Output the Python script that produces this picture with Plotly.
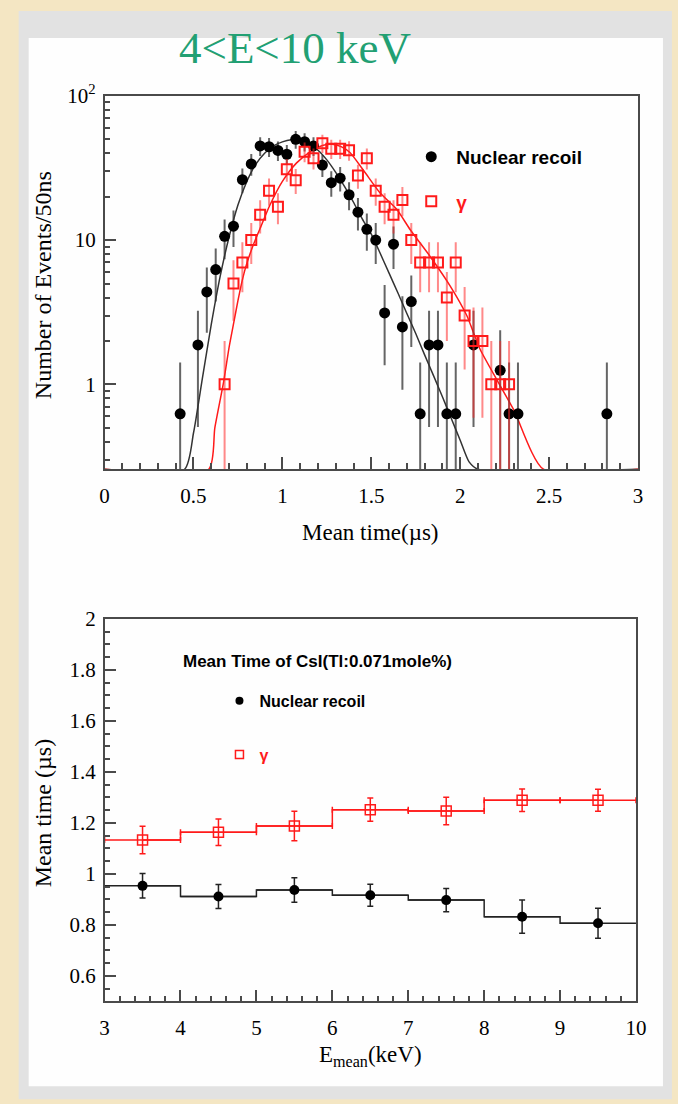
import numpy as np
import plotly.graph_objects as go

W, H = 678, 1104

# ---------- upper panel: mean-time spectra, 50 ns bins ----------
nr_t = [0.425, 0.525, 0.575, 0.625, 0.675, 0.725, 0.775, 0.825, 0.875, 0.925,
        0.975, 1.025, 1.075, 1.125, 1.175, 1.225, 1.275, 1.325, 1.375, 1.425,
        1.475, 1.525, 1.575, 1.625, 1.675, 1.725, 1.775, 1.825, 1.875, 1.925,
        1.975, 2.075, 2.225, 2.275, 2.325, 2.825]
nr_counts = [0.625, 1.875, 4.375, 6.25, 10.625, 12.5, 26.25, 33.75, 45.0, 44.375,
             41.875, 39.375, 50.0, 48.125, 45.0, 33.125, 25.0, 26.875, 20.625, 15.625,
             11.875, 10.0, 3.125, 9.375, 2.5, 3.75, 0.625, 1.875, 1.875, 0.625,
             0.625, 1.875, 1.25, 0.625, 0.625, 0.625]

gam_t = [0.675, 0.725, 0.775, 0.825, 0.875, 0.925, 0.975, 1.025, 1.075, 1.125,
         1.175, 1.225, 1.275, 1.325, 1.375, 1.425, 1.475, 1.525, 1.575, 1.625,
         1.675, 1.725, 1.775, 1.825, 1.875, 1.925, 1.975, 2.025, 2.075, 2.125,
         2.175, 2.225, 2.275]
gam_counts = [1, 5, 7, 10, 15, 22, 17, 31, 26, 41,
              37, 47, 43, 43, 42, 28, 37, 22, 17, 15,
              19, 10, 7, 7, 7, 4, 7, 3, 2, 2,
              1, 1, 1]

# fitted curves, sampled along the drawn fit
nr_fit_t = [0.0, 0.45, 0.50, 0.55, 0.60, 0.65, 0.70, 0.75, 0.80, 0.85, 0.90, 0.95,
            1.00, 1.05, 1.10, 1.15, 1.20, 1.25, 1.30, 1.35, 1.40, 1.45, 1.50,
            1.55, 1.60, 1.65, 1.70, 1.75, 1.80, 1.85, 1.90, 1.95, 2.00, 2.05,
            2.10, 3.0]
nr_fit_y = [0.0, 0.2, 0.46, 1.1, 2.6, 5.6, 10.5, 17.5, 25.5, 33.5, 40.0, 45.0,
            48.0, 49.6, 49.5, 46.5, 42.0, 36.0, 29.5, 23.5, 18.3, 14.0, 11.0,
            8.1, 5.9, 4.3, 3.1, 2.25, 1.6, 1.15, 0.82, 0.58, 0.41, 0.29,
            0.205, 0.0]

gam_fit_t = [0.0, 0.586, 0.62, 0.67, 0.70, 0.727, 0.75, 0.775, 0.80, 0.84, 0.88,
             0.93, 1.00, 1.08, 1.16, 1.23, 1.28, 1.33, 1.38, 1.46, 1.55, 1.644,
             1.719, 1.831, 1.944, 2.037, 2.112, 2.30, 2.468, 3.0]
gam_fit_y = [0.0, 0.258, 0.5, 1.05, 1.8, 2.7, 3.8, 5.3, 6.9, 9.5, 12.5,
             17.5, 25.5, 34.3, 41.3, 45.5, 46.2, 44.5, 40.5, 30.0, 21.2, 16.3,
             11.8, 7.7, 4.8, 3.0, 1.75, 0.67, 0.258, 0.0]

Y_MIN_TOP = 0.258

# ---------- lower panel: mean time vs. energy ----------
e_bins = [3.5, 4.5, 5.5, 6.5, 7.5, 8.5, 9.5]
gam_mean = [1.133, 1.163, 1.188, 1.252, 1.247, 1.289, 1.289]
gam_mean_err = [0.054, 0.052, 0.058, 0.046, 0.054, 0.044, 0.043]
nr_mean = [0.953, 0.911, 0.937, 0.916, 0.897, 0.832, 0.806]
nr_mean_err = [0.048, 0.047, 0.048, 0.043, 0.046, 0.065, 0.059]

RED = "#ff1a1a"
RED_ERR = "rgba(255,40,40,0.55)"
GREY_ERR = "rgba(50,50,50,0.75)"
AXIS = "#4a4a4a"
SERIF = "Liberation Serif"
SANS = "Liberation Sans"

# page-pixel -> paper-fraction mapping (calibrated for the rendered page box)
SX, OX = 0.9775, 4.3
SY, OY = 0.989, 11.0


def fx(x):
    return ((x - OX) / SX) / W


def fy(y):
    return 1 - ((y - OY) / SY) / H


fig = go.Figure()

# Poisson errors of the histogram contents
nr_vals = np.array(nr_counts)
nr_err = np.sqrt(nr_vals)
gam_vals = np.array(gam_counts, dtype=float)
gam_err = np.sqrt(gam_vals)

floor = Y_MIN_TOP
fig.add_trace(go.Scatter(
    x=nr_fit_t, y=np.maximum(np.array(nr_fit_y), floor), mode="lines",
    line=dict(color="#333333", width=1.5, shape="spline", smoothing=0.6),
    showlegend=False, xaxis="x", yaxis="y", hoverinfo="skip"))
fig.add_trace(go.Scatter(
    x=gam_fit_t, y=np.maximum(np.array(gam_fit_y), floor), mode="lines",
    line=dict(color=RED, width=1.5, shape="spline", smoothing=0.6),
    showlegend=False, xaxis="x", yaxis="y", hoverinfo="skip"))

fig.add_trace(go.Scatter(
    x=nr_t, y=nr_vals, mode="markers", name="Nuclear recoil",
    marker=dict(symbol="circle", size=11, color="black"),
    error_y=dict(type="data", array=nr_err,
                 arrayminus=np.minimum(nr_err, nr_vals - 0.01),
                 color=GREY_ERR, thickness=2, width=0),
    xaxis="x", yaxis="y", legend="legend", legendgroup="nr"))
fig.add_trace(go.Scatter(
    x=gam_t, y=gam_vals, mode="markers", name="<span style='color:#ff1a1a'>γ</span>",
    marker=dict(symbol="square-open", size=10, color=RED, line=dict(width=2)),
    error_y=dict(type="data", array=gam_err,
                 arrayminus=np.minimum(gam_err, gam_vals - 0.01),
                 color=RED_ERR, thickness=2, width=0),
    xaxis="x", yaxis="y", legend="legend", legendgroup="g"))

# lower panel: histogram steps with error bars
fig.add_trace(go.Scatter(
    x=e_bins, y=nr_mean, mode="lines+markers", line=dict(color="#222222", width=1.5, shape="hvh"),
    marker=dict(symbol="circle", size=10, color="black"),
    error_x=dict(type="constant", value=0.5, color="#222222", thickness=1.5, width=0),
    error_y=dict(type="data", array=nr_mean_err, color="#222222", thickness=1.5, width=3),
    showlegend=False, xaxis="x2", yaxis="y2"))
fig.add_trace(go.Scatter(
    x=e_bins, y=gam_mean, mode="lines+markers", line=dict(color=RED, width=1.5, shape="hvh"),
    marker=dict(symbol="square-open", size=10, color=RED, line=dict(width=1.5)),
    error_x=dict(type="constant", value=0.5, color=RED, thickness=1.5, width=3),
    error_y=dict(type="data", array=gam_mean_err, color=RED, thickness=1.5, width=3),
    showlegend=False, xaxis="x2", yaxis="y2"))
fig.add_trace(go.Scatter(
    x=[None], y=[None], mode="markers", name="Nuclear recoil",
    marker=dict(symbol="circle", size=8, color="black"),
    xaxis="x2", yaxis="y2", legend="legend2", legendgroup="nr2"))
fig.add_trace(go.Scatter(
    x=[None], y=[None], mode="markers", name="<span style='color:#ff1a1a'>γ</span>",
    marker=dict(symbol="square-open", size=8, color=RED, line=dict(width=1.5)),
    xaxis="x2", yaxis="y2", legend="legend2", legendgroup="g2"))

axis_common = dict(showline=True, linecolor=AXIS, linewidth=1.5, mirror=True,
                   ticks="inside", tickcolor=AXIS, tickwidth=1.5, ticklen=12,
                   showgrid=False, zeroline=False,
                   tickfont=dict(family=SERIF, size=21, color="black"))
x_common = dict(ticklabelstandoff=7, **axis_common)
y_common = dict(ticklabelstandoff=3, **axis_common)


def note(text, x, y, size, family=SERIF, angle=0, xanchor="center", weight="normal", color="black"):
    return dict(text=text, x=fx(x), y=fy(y), xref="paper", yref="paper",
                xanchor=xanchor, yanchor="middle", showarrow=False, textangle=angle,
                font=dict(family=family, size=size, color=color, weight=weight))


fig.update_layout(
    width=W, height=H, autosize=False,
    margin=dict(l=0, r=0, t=0, b=0),
    paper_bgcolor="#f4e6c3", plot_bgcolor="rgba(0,0,0,0)",
    xaxis=dict(domain=[fx(104), fx(638)], range=[0, 3], anchor="y",
               tickvals=[0, 0.5, 1, 1.5, 2, 2.5, 3],
               ticktext=["0", "0.5", "1", "1.5", "2", "2.5", "3"],
               minor=dict(ticks="inside", dtick=0.1, ticklen=6, tickcolor=AXIS, tickwidth=1.5),
               **x_common),
    yaxis=dict(domain=[fy(467), fy(93)], type="log", range=[np.log10(Y_MIN_TOP), 2], anchor="x",
               tickvals=[1, 10, 100], ticktext=["1", "10", "10<sup>2</sup>"],
               minor=dict(ticks="inside", ticklen=6, tickcolor=AXIS, tickwidth=1.5,
                          tickvals=[0.3, 0.4, 0.5, 0.6, 0.7, 0.8, 0.9,
                                    2, 3, 4, 5, 6, 7, 8, 9,
                                    20, 30, 40, 50, 60, 70, 80, 90]),
               **y_common),
    xaxis2=dict(domain=[fx(104), fx(636)], range=[3, 10], anchor="y2",
                tickvals=[3, 4, 5, 6, 7, 8, 9, 10],
                minor=dict(ticks="inside", dtick=0.2, ticklen=6, tickcolor=AXIS, tickwidth=1.5),
                **x_common),
    yaxis2=dict(domain=[fy(1000), fy(617)], range=[0.5, 2], anchor="x2",
                tickvals=[0.6, 0.8, 1.0, 1.2, 1.4, 1.6, 1.8, 2.0],
                ticktext=["0.6", "0.8", "1", "1.2", "1.4", "1.6", "1.8", "2"],
                minor=dict(ticks="inside", dtick=0.05, ticklen=6, tickcolor=AXIS, tickwidth=1.5),
                **y_common),
    legend=dict(x=fx(406), y=fy(135), xanchor="left", yanchor="top",
                bgcolor="rgba(0,0,0,0)", itemwidth=40, tracegroupgap=17,
                font=dict(family=SANS, size=19, color="black", weight="bold")),
    legend2=dict(x=fx(219), y=fy(682), xanchor="left", yanchor="top",
                 bgcolor="rgba(0,0,0,0)", itemwidth=30, tracegroupgap=30,
                 font=dict(family=SANS, size=16, color="black", weight="bold")),
    shapes=[
        dict(type="rect", xref="paper", yref="paper", x0=fx(18), x1=fx(672), y0=fy(1098), y1=fy(8),
             fillcolor="#e2e2e2", line=dict(width=0), layer="below"),
        dict(type="rect", xref="paper", yref="paper", x0=fx(28), x1=fx(663), y0=fy(1085), y1=fy(35),
             fillcolor="#fefefe", line=dict(width=0), layer="below"),
    ],
    annotations=[
        note("4&lt;E&lt;10 keV", 295, 45, 45, color="#22a073"),
        note("Number of Events/50ns", 42, 283, 24, angle=-90),
        note("Mean time(µs)", 370, 530, 23),
        note("Mean Time of CsI(Tl:0.071mole%)", 180, 660, 17, family=SANS, xanchor="left", weight="bold"),
        note("Mean time (µs)", 42, 812, 24, angle=-90),
        note("E<sub>mean</sub>(keV)", 370, 1055, 23),
    ],
)

fig.write_html("out.html")
